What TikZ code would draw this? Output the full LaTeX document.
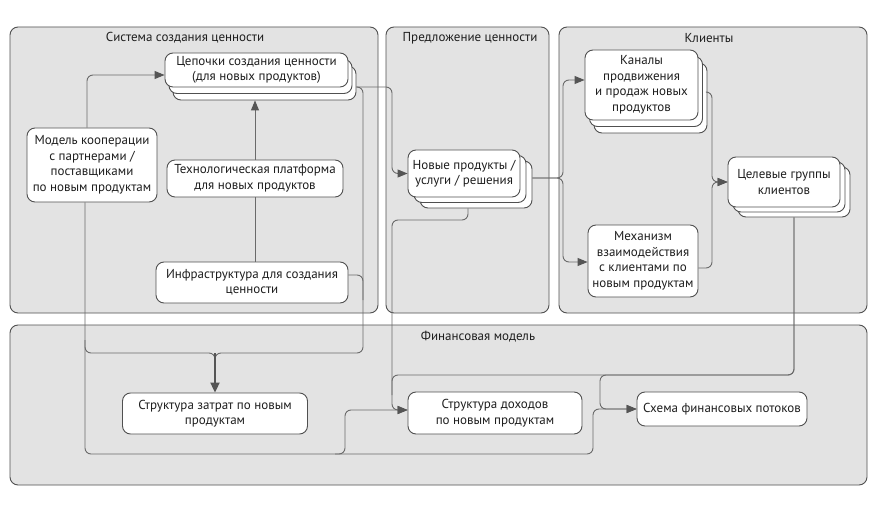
\documentclass[tikz,border=0pt]{standalone}
\usepackage{fontspec}
\setmainfont{PT Sans}
\usetikzlibrary{arrows.meta,calc}
\definecolor{panelfill}{HTML}{E3E3E3}
\definecolor{edgec}{HTML}{505050}
\definecolor{wirec}{HTML}{6A6A6A}
\definecolor{tipc}{HTML}{555555}
\definecolor{txtc}{HTML}{1E1E1E}
\begin{document}
\begin{tikzpicture}[x=1pt,y=-1pt,
  panel/.style={draw=edgec, fill=panelfill, rounded corners=8pt, line width=0.9pt},
  box/.style={draw=edgec, fill=white, rounded corners=8pt, line width=0.9pt, align=center, inner sep=2pt, text=txtc, font=\fontsize{13}{15.5}\selectfont},
  ttl/.style={font=\fontsize{13}{15.5}\selectfont, text=txtc},
  wire/.style={draw=wirec, line width=0.9pt, rounded corners=6pt},
  arr/.style={wire, -{Triangle[length=10pt,width=8pt,fill=tipc,color=tipc]}},
  bigarr/.style={draw=tipc, line width=2pt, -{Triangle[length=10pt,width=9pt,fill=tipc,color=tipc]}},
]
\useasboundingbox (0,0) rectangle (878,508);
\fill[white] (0,0) rectangle (878,508);

% panels
\draw[panel] (10,27) rectangle (378,313);
\draw[panel] (386,27) rectangle (549,313);
\draw[panel] (559,27) rectangle (867,313);
\draw[panel] (10,325) rectangle (867,485);
\node[ttl] (t1) at (185,38) {Система создания ценности};
\node[ttl] (t2) at (470,38) {Предложение ценности};
\node[ttl] (t3) at (709,38) {Клиенты};
\node[ttl] (t4) at (478,337) {Финансовая модель};

% stacked: value chains
\node[box, minimum width=183pt, minimum height=34pt] (cep3) at (264.5,83) {};
\node[box, minimum width=183pt, minimum height=34pt] (cep2) at (260.5,76.5) {};
\node[box, minimum width=183pt, minimum height=34pt] (cep) at (256.5,70) {Цепочки создания ценности\\(для новых продуктов)};

\node[box, minimum width=130pt, minimum height=74pt] (mod) at (92,165) {Модель кооперации\\с партнерами /\\поставщиками\\по новым продуктам};
\node[box, minimum width=176pt, minimum height=37pt] (tech) at (255,178.5) {Технологическая платформа\\для новых продуктов};
\node[box, minimum width=192pt, minimum height=41pt] (infra) at (252,282.5) {Инфраструктура для создания\\ценности};

% stacked: new products
\node[box, minimum width=112pt, minimum height=47pt] (nov3) at (476,184.5) {};
\node[box, minimum width=112pt, minimum height=47pt] (nov2) at (470,179) {};
\node[box, minimum width=112pt, minimum height=47pt] (nov) at (464,173.5) {Новые продукты /\\услуги / решения};

% stacked: channels
\node[box, minimum width=113pt, minimum height=70pt] (kan3) at (650.5,98) {};
\node[box, minimum width=113pt, minimum height=70pt] (kan2) at (646,91.5) {};
\node[box, minimum width=113pt, minimum height=70pt] (kan) at (641.5,85) {Каналы\\продвижения\\и продаж новых\\продуктов};

% stacked: target groups
\node[box, minimum width=112pt, minimum height=50pt] (cel3) at (794,192) {};
\node[box, minimum width=112pt, minimum height=50pt] (cel2) at (789,187) {};
\node[box, minimum width=112pt, minimum height=50pt] (cel) at (784,182) {Целевые группы\\клиентов};

\node[box, minimum width=110pt, minimum height=72pt] (mech) at (643,261) {Механизм\\взаимодействия\\с клиентами по\\новым продуктам};

% financial model
\node[box, minimum width=185pt, minimum height=41pt] (zat) at (215,413.5) {Структура затрат по новым\\продуктам};
\node[box, minimum width=174pt, minimum height=42pt] (doh) at (495,413) {Структура доходов\\по новым продуктам};
\node[box, minimum width=170pt, minimum height=34pt] (sch) at (722,409) {Схема финансовых потоков};

% connectors: value creation system
\draw[arr] ($(mod.north)+(-5,0)$) |- ($(cep.west)+(0,5)$);
\draw[arr] (tech.north) -- (tech.north |- cep3.south);
\draw[wire] (tech.south) -- (tech.south |- infra.north);

% chains -> new products, chains -> costs
\draw[arr] (cep3.east |- 0,87) -- (392,87) -- (392,173.5) -- (nov.west);
\draw[wire] (cep3.east |- 0,87) -- (363,87) -- (363,353) -- (215,353) -- (215,372);
\draw[wire] (infra.east |- 0,275) -- (363,275) -- (363,300);

% cooperation model -> costs, revenues, flows
\draw[wire] ($(mod.south)+(-7,0)$) -- (85,353) -- (215,353) -- (215,372);
\draw[bigarr] (215,353) -- (zat.north);
\draw[arr] (85,340) -- (85,454) -- (345,454) -- (345,410) -- (doh.west |- 0,410);
\draw[arr] (335,454) -- (593,454) -- (593,409) -- (sch.west);

% new products -> revenues
\draw[arr] ($(nov3.south)+(-8,0)$) |- (392,220) -- (392,410) -- (doh.west |- 0,410);

% target groups -> revenues, flows
\draw[wire] (cel3.south) |- (392,375) -- (392,395);
\draw[arr] (cel3.south) |- (600,375) -- (600,409) -- (sch.west);

% new products -> channels / mechanism
\draw[arr] (nov3.east |- 0,178) -- (563,178) -- (563,80) -- (kan.west |- 0,80);
\draw[arr] (nov3.east |- 0,178) -- (563,178) -- (563,262) -- (mech.west |- 0,262);

% channels / mechanism -> target groups
\draw[arr] (kan3.east |- 0,92) -- (712,92) -- (712,182) -- (cel.west);
\draw[arr] (mech.east |- 0,268) -- (712,268) -- (712,182) -- (cel.west);
\end{tikzpicture}
\end{document}
